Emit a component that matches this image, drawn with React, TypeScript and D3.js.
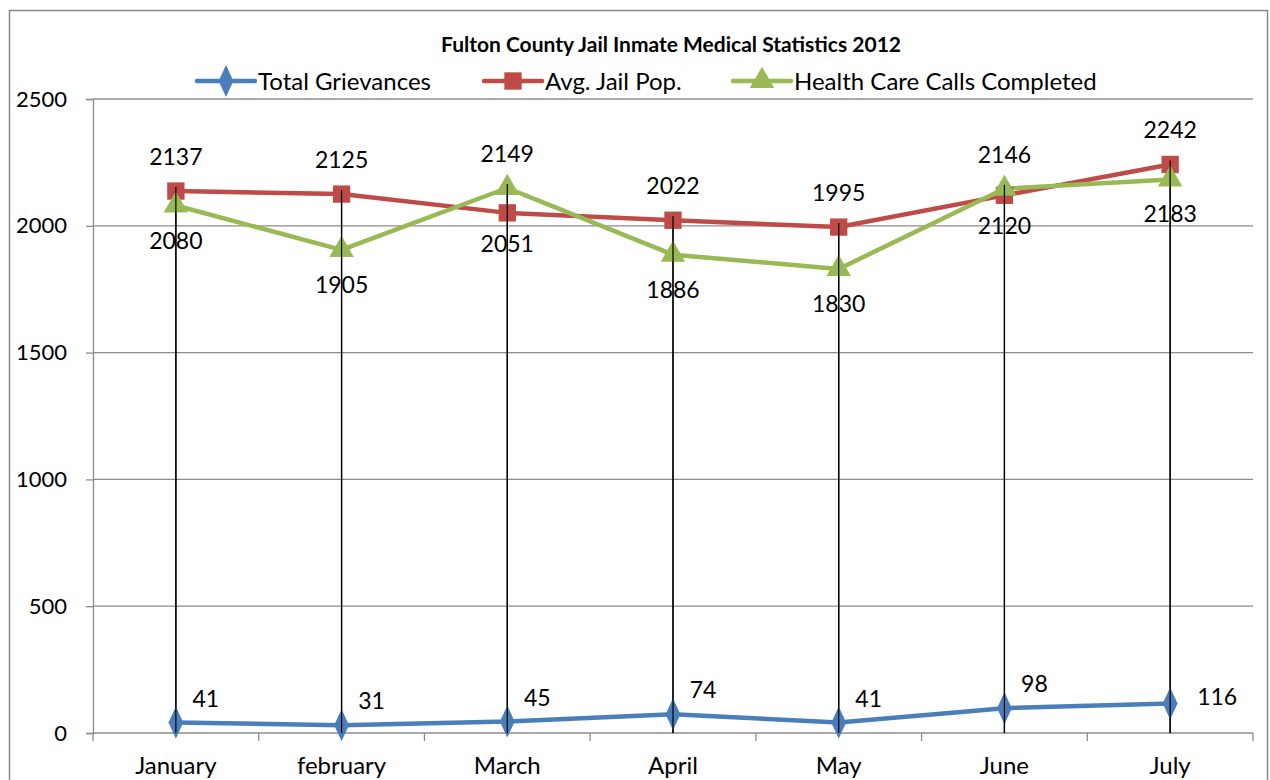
import React, { useEffect, useRef } from 'react';
import * as d3 from 'd3';

const months = ['January', 'february', 'March', 'April', 'May', 'June', 'July'];
const grievances = [41, 31, 45, 74, 41, 98, 116];
const jailPop = [2137, 2125, 2051, 2022, 1995, 2120, 2242];
const healthCalls = [2080, 1905, 2149, 1886, 1830, 2146, 2183];
// label side per point: 1 = above, -1 = below
const jailPopSide = [1, 1, -1, 1, 1, -1, 1];
const healthSide = [-1, -1, 1, -1, -1, 1, -1];
// grievance labels: 'tr' = upper right, 'r' = right
const grievSide = ['tr', 'tr', 'tr', 'tr', 'tr', 'tr', 'r'];
const yTicks = [0, 500, 1000, 1500, 2000, 2500];

const seriesNames = ['Total Grievances', 'Avg. Jail Pop.', 'Health Care Calls Completed'];
const colors = ['#4A7EBB', '#BE4B48', '#98B954'];

const FONT = 'Lato, "Open Sans", sans-serif';

export default function App() {
  const ref = useRef<SVGSVGElement>(null);

  useEffect(() => {
    const svg = d3.select(ref.current);
    svg.selectAll('*').remove();

    const left = 93, right = 1253, top = 99, bottom = 733;

    const x = d3.scaleBand().domain(months).range([left, right]);
    const y = d3.scaleLinear().domain([0, 2500]).range([bottom, top]);
    const cx = (m: string) => (x(m) as number) + x.bandwidth() / 2;

    svg.append('rect')
      .attr('x', 0).attr('y', 0).attr('width', 1270).attr('height', 780)
      .attr('fill', '#fff');

    // outer frame
    svg.append('rect')
      .attr('x', 9.5).attr('y', 10.5).attr('width', 1258).attr('height', 790)
      .attr('fill', 'none').attr('stroke', '#888').attr('stroke-width', 1.5);

    // gridlines
    svg.append('g').selectAll('line')
      .data(yTicks.filter(t => t > 0))
      .enter().append('line')
      .attr('x1', left).attr('x2', right)
      .attr('y1', d => y(d)).attr('y2', d => y(d))
      .attr('stroke', '#8c8c8c').attr('stroke-width', 1.3);

    // y axis
    const yAxis = svg.append('g')
      .attr('transform', `translate(${left},0)`)
      .call(d3.axisLeft(y).tickValues(yTicks).tickSize(7).tickPadding(19).tickFormat(d3.format('d')));
    yAxis.select('.domain').attr('stroke', '#8c8c8c').attr('stroke-width', 1.3);
    yAxis.selectAll('.tick line').attr('stroke', '#8c8c8c').attr('stroke-width', 1.3);
    yAxis.selectAll('text').attr('font-family', FONT).attr('font-size', 22).attr('fill', '#000');

    // x axis
    const bounds = months.map(m => x(m) as number).concat([right]);
    svg.append('line')
      .attr('x1', left).attr('x2', right).attr('y1', bottom).attr('y2', bottom)
      .attr('stroke', '#8c8c8c').attr('stroke-width', 1.3);
    svg.append('g').selectAll('line')
      .data(bounds)
      .enter().append('line')
      .attr('x1', d => d).attr('x2', d => d)
      .attr('y1', bottom).attr('y2', bottom + 8)
      .attr('stroke', '#8c8c8c').attr('stroke-width', 1.3);
    svg.append('g').selectAll('text')
      .data(months)
      .enter().append('text')
      .attr('x', d => cx(d)).attr('y', 774)
      .attr('text-anchor', 'middle')
      .attr('font-family', FONT).attr('font-size', 24)
      .text(d => d);

    // drop lines
    svg.append('g').selectAll('line')
      .data(months)
      .enter().append('line')
      .attr('x1', d => cx(d)).attr('x2', d => cx(d))
      .attr('y1', (d, i) => y(Math.max(grievances[i], jailPop[i], healthCalls[i])))
      .attr('y2', bottom)
      .attr('stroke', '#000').attr('stroke-width', 1.3);

    const line = d3.line<number>()
      .x((d, i) => cx(months[i]))
      .y(d => y(d));

    const allSeries = [grievances, jailPop, healthCalls];
    const symbols = [d3.symbolDiamond, d3.symbolSquare, d3.symbolTriangle];
    const symSizes = [190, 300, 260];

    allSeries.forEach((s, k) => {
      svg.append('path')
        .datum(s)
        .attr('d', line)
        .attr('fill', 'none')
        .attr('stroke', colors[k])
        .attr('stroke-width', 4.5)
        .attr('stroke-linejoin', 'round');
    });

    allSeries.forEach((s, k) => {
      svg.append('g').selectAll('path')
        .data(s)
        .enter().append('path')
        .attr('d', d3.symbol().type(symbols[k]).size(symSizes[k])())
        .attr('transform', (d, i) => {
          const sx = k === 0 ? 'scale(1,1.25)' : '';
          return `translate(${cx(months[i])},${y(d)}) ${sx}`;
        })
        .attr('fill', colors[k]);
    });

    // drop lines show over markers
    svg.append('g').selectAll('line')
      .data(months)
      .enter().append('line')
      .attr('x1', d => cx(d)).attr('x2', d => cx(d))
      .attr('y1', (d, i) => y(Math.max(grievances[i], jailPop[i], healthCalls[i])) - 4)
      .attr('y2', bottom)
      .attr('stroke', '#000').attr('stroke-width', 1.2);

    const labelG = svg.append('g')
      .attr('font-family', FONT).attr('font-size', 23).attr('fill', '#000');

    labelG.selectAll('.lg')
      .data(grievances)
      .enter().append('text')
      .attr('x', (d, i) => cx(months[i]) + (grievSide[i] === 'r' ? 47 : 30))
      .attr('y', (d, i) => y(d) + (grievSide[i] === 'r' ? 1 : -16))
      .attr('text-anchor', 'middle')
      .text(d => d);

    labelG.selectAll('.lp')
      .data(jailPop)
      .enter().append('text')
      .attr('x', (d, i) => cx(months[i]))
      .attr('y', (d, i) => y(d) + (jailPopSide[i] > 0 ? -26 : 39))
      .attr('text-anchor', 'middle')
      .text(d => d);

    labelG.selectAll('.lh')
      .data(healthCalls)
      .enter().append('text')
      .attr('x', (d, i) => cx(months[i]))
      .attr('y', (d, i) => y(d) + (healthSide[i] > 0 ? -26 : 43))
      .attr('text-anchor', 'middle')
      .text(d => d);

    // title
    svg.append('text')
      .attr('x', 671).attr('y', 52)
      .attr('text-anchor', 'middle')
      .attr('font-family', FONT).attr('font-size', 21).attr('font-weight', 'bold')
      .text('Fulton County Jail Inmate Medical Statistics 2012');

    // legend
    const legX = [197, 484, 733];
    seriesNames.forEach((name, k) => {
      const g = svg.append('g').attr('transform', `translate(${legX[k]},81)`);
      g.append('line')
        .attr('x1', 0).attr('x2', 58).attr('y1', 0).attr('y2', 0)
        .attr('stroke', colors[k]).attr('stroke-width', 4.5).attr('stroke-linecap', 'round');
      g.append('path')
        .attr('d', d3.symbol().type(symbols[k]).size(symSizes[k])())
        .attr('transform', `translate(29,0) ${k === 0 ? 'scale(1,1.25)' : ''}`)
        .attr('fill', colors[k]);
      g.append('text')
        .attr('x', 61).attr('y', 9)
        .attr('font-family', FONT).attr('font-size', 24)
        .text(name);
    });
  }, []);

  return (
    <svg ref={ref} width={1270} height={780}
      style={{ position: 'absolute', left: 0, top: 0 }} />
  );
}
